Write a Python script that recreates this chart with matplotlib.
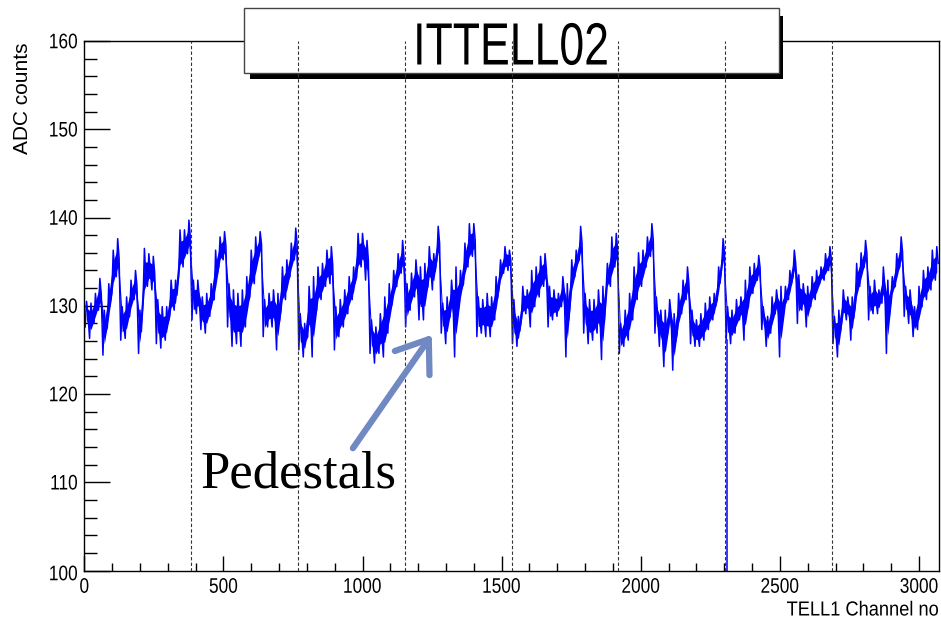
import numpy as np
import matplotlib
matplotlib.use("Agg")
import matplotlib.pyplot as plt
from matplotlib.patches import Rectangle, PathPatch
from matplotlib.textpath import TextPath
from matplotlib.font_manager import FontProperties
from matplotlib.transforms import Affine2D
from matplotlib.ticker import MultipleLocator, NullFormatter

plt.rcParams['font.family'] = ['Liberation Sans', 'DejaVu Sans']

# pedestal band per 16-channel bin (low / high ADC), 8 bins per Beetle chip, 24 chips
ped_lo = [
    127.6, 126.3, 128.0, 129.5, 124.4, 127.6, 131.4, 133.3,
    126.1, 126.3, 128.8, 130.7, 124.6, 130.3, 132.2, 131.8,
    125.7, 125.2, 126.1, 128.8, 129.5, 133.3, 134.4, 135.9,
    128.4, 129.1, 127.3, 126.9, 128.8, 130.7, 134.4, 135.2,
    127.6, 125.4, 125.7, 125.4, 127.6, 131.0, 132.5, 135.6,
    126.5, 127.6, 127.6, 125.0, 129.5, 130.7, 133.3, 135.2,
    125.0, 124.2, 126.5, 124.2, 129.5, 130.7, 132.2, 132.5,
    125.0, 126.5, 127.6, 129.1, 130.7, 133.3, 134.4, 132.9,
    124.6, 123.5, 124.6, 124.2, 126.9, 130.3, 132.2, 133.7,
    127.6, 129.5, 131.0, 128.4, 128.4, 132.2, 131.8, 135.2,
    126.9, 125.7, 128.8, 124.2, 129.9, 132.5, 134.4, 135.6,
    126.5, 126.9, 126.5, 126.5, 128.4, 132.2, 133.7, 134.0,
    125.7, 125.4, 128.4, 129.1, 127.6, 129.9, 131.0, 132.2,
    127.6, 128.4, 128.8, 129.9, 124.2, 130.7, 133.3, 135.2,
    126.9, 125.7, 126.1, 126.9, 123.9, 131.4, 132.2, 134.4,
    124.6, 125.4, 126.1, 128.4, 130.7, 132.2, 134.4, 135.6,
    126.9, 125.4, 123.1, 127.3, 122.7, 126.9, 129.1, 130.7,
    125.7, 125.4, 125.4, 126.1, 127.3, 128.4, 130.7, 134.4,
    126.1, 125.7, 126.9, 128.4, 126.1, 129.9, 131.4, 132.9,
    127.3, 125.4, 126.9, 129.1, 124.2, 129.5, 130.7, 133.3,
    128.0, 129.5, 127.6, 129.9, 130.7, 132.5, 132.9, 134.0,
    125.7, 124.2, 128.4, 128.4, 126.1, 129.9, 132.2, 134.4,
    128.4, 129.1, 129.1, 130.3, 124.6, 130.7, 132.2, 134.4,
    128.8, 128.0, 126.5, 127.3, 129.9, 130.7, 131.8, 132.9,
]
ped_hi = [
    130.5, 130.3, 131.4, 133.1, 129.5, 132.5, 136.3, 137.6,
    129.9, 131.0, 132.9, 134.0, 129.5, 136.5, 135.9, 135.6,
    130.7, 129.9, 129.9, 132.9, 132.9, 138.6, 138.6, 139.7,
    132.9, 132.9, 131.0, 131.4, 132.5, 136.3, 137.8, 138.4,
    132.5, 131.8, 131.4, 131.8, 133.3, 136.3, 137.8, 138.4,
    130.7, 131.4, 131.8, 131.4, 134.4, 135.2, 137.1, 138.8,
    129.1, 128.0, 132.2, 133.3, 134.4, 134.8, 136.3, 136.7,
    129.9, 130.7, 131.8, 133.3, 134.4, 138.2, 138.2, 137.4,
    128.4, 127.6, 129.1, 131.0, 132.5, 134.0, 135.9, 137.4,
    132.5, 133.7, 135.2, 134.4, 134.8, 136.7, 135.9, 139.0,
    130.3, 131.0, 132.9, 134.4, 134.0, 137.1, 139.3, 139.3,
    131.0, 130.7, 131.4, 131.0, 133.3, 135.2, 136.7, 136.3,
    130.7, 128.8, 132.2, 131.8, 134.0, 134.4, 135.6, 135.9,
    132.2, 131.8, 131.4, 133.3, 132.5, 135.2, 136.3, 139.0,
    131.4, 130.7, 130.7, 131.8, 132.2, 134.8, 137.8, 138.2,
    128.0, 129.5, 131.4, 134.4, 136.0, 136.3, 137.8, 139.3,
    131.0, 129.5, 129.5, 130.7, 129.1, 131.4, 132.9, 134.4,
    129.5, 128.4, 129.1, 130.3, 131.0, 131.4, 134.4, 137.6,
    129.9, 129.5, 130.7, 131.0, 132.9, 134.4, 134.8, 135.7,
    129.9, 128.8, 131.0, 131.8, 132.2, 132.2, 134.0, 136.3,
    133.5, 132.5, 132.2, 133.3, 134.0, 134.4, 135.9, 136.7,
    128.8, 129.5, 131.8, 131.0, 131.0, 134.8, 136.0, 137.4,
    132.2, 132.9, 131.8, 134.4, 132.9, 133.3, 135.9, 137.8,
    132.2, 131.8, 129.9, 132.2, 134.0, 134.4, 136.3, 136.7,
]
bin_width = 16
# one dead channel that drops off the bottom of the plot
dead_ch = 2311
dead_adc = 0.0
# TELL1 link boundaries every 384 channels
links = [384, 768, 1152, 1536, 1920, 2304, 2688]
x_ticks = [0, 500, 1000, 1500, 2000, 2500, 3000]
y_ticks = [100, 110, 120, 130, 140, 150, 160]

lo = np.array(ped_lo)
hi = np.array(ped_hi)
start = np.arange(len(lo)) * bin_width

# zigzag between low and high in each bin -> dense noisy trace
xs = np.column_stack([start + 3, start + 8, start + 13]).ravel()
ys = np.column_stack([lo, hi, (lo + hi) / 2]).ravel()

W, H = 941.0, 619.0
fig = plt.figure(figsize=(9.41, 6.19), dpi=100)
ax = fig.add_axes([84.3 / W, 1 - 570.5 / H, (939 - 84.3) / W, (570.5 - 41) / H])


def squeezed(s, x, y, cap, sx=0.82, ha='center', width=None, z=5):
    # text squeezed horizontally like the stretched ROOT canvas; x, y in pixels from top-left
    tp = TextPath((0, 0), s, size=100, prop=FontProperties(family='Liberation Sans'))
    ref = TextPath((0, 0), 'H', size=100, prop=FontProperties(family='Liberation Sans')).get_extents()
    bb = tp.get_extents()
    k = cap / ref.height
    if width is not None:
        sx = width / (bb.width * k)
    if ha == 'center':
        dx = -(bb.x0 + bb.x1) / 2
    elif ha == 'right':
        dx = -bb.x1
    else:
        dx = -bb.x0
    dy = -ref.height / 2
    tr = Affine2D().translate(dx, dy).scale(k * sx, k).translate(x, H - y)
    fig.add_artist(PathPatch(tp, transform=tr, facecolor='black', edgecolor='none', zorder=z))


ax.plot(xs, ys, color='blue', lw=1.1, zorder=2)
band = hi - lo
ax.fill_between(start + 8, lo + 0.25 * band, hi - 0.25 * band, color='blue', lw=0, zorder=2)
k = dead_ch // bin_width
ax.plot([dead_ch, dead_ch], [lo[k], dead_adc], color='blue', lw=1.1, zorder=2)

for l in links:
    ax.axvline(l, color='#333333', lw=0.8, dashes=(3, 2), zorder=4)

ax.set_xlim(0, 3072)
ax.set_ylim(100, 160)
ax.xaxis.set_major_locator(MultipleLocator(500))
ax.xaxis.set_minor_locator(MultipleLocator(100))
ax.yaxis.set_major_locator(MultipleLocator(10))
ax.yaxis.set_minor_locator(MultipleLocator(2))
ax.xaxis.set_major_formatter(NullFormatter())
ax.yaxis.set_major_formatter(NullFormatter())
ax.tick_params(which='both', direction='in', top=False, right=False, width=1)
ax.tick_params(axis='x', which='major', length=10.8)
ax.tick_params(axis='x', which='minor', length=5.8)
ax.tick_params(axis='y', which='major', length=18.7)
ax.tick_params(axis='y', which='minor', length=9.4)
for s in ax.spines.values():
    s.set_linewidth(1)

# tick labels, placed through the axes transform
for t in x_ticks:
    px = ax.transData.transform((t, 100))[0]
    squeezed(str(t), px, 585.5, 14.5)
for t in y_ticks:
    py = H - ax.transData.transform((0, t))[1]
    if t == 100:
        py += 2.5
    squeezed(str(t), 77, py, 14.5, ha='right')

squeezed('TELL1 Channel no', 938, 608.5, 14, ha='right', width=151)
fig.text(23 / W, 1 - 42 / H, 'ADC counts', rotation=90, ha='center', va='top', fontsize=15)

# title box with ROOT-style shadow
shadow = Rectangle((250 / W, 1 - 79 / H), (783 - 250) / W, (79 - 16) / H,
                   transform=fig.transFigure, facecolor='black', edgecolor='none',
                   clip_on=False, zorder=3)
box = Rectangle((243.6 / W, 1 - 73.3 / H), (779 - 243.6) / W, (73.3 - 8.3) / H,
                transform=fig.transFigure, facecolor='white', edgecolor='#444444',
                lw=1, clip_on=False, zorder=3.1)
ax.add_patch(shadow)
ax.add_patch(box)
squeezed('ITTELL02', 512, 44, 41, width=189.5, z=3)

ax.annotate('Pedestals', xy=(1249, 126.7), xytext=(416, 109.35),
            textcoords='data', ha='left', va='baseline', fontsize=38,
            family=['Liberation Serif', 'DejaVu Serif'], zorder=5,
            arrowprops=dict(arrowstyle='->,head_length=0.55,head_width=0.4',
                            color='#7189c2', lw=4.5, capstyle='round',
                            shrinkA=0, shrinkB=0, relpos=(0.77, 1.0)))

fig.savefig('out.png', dpi=100)
